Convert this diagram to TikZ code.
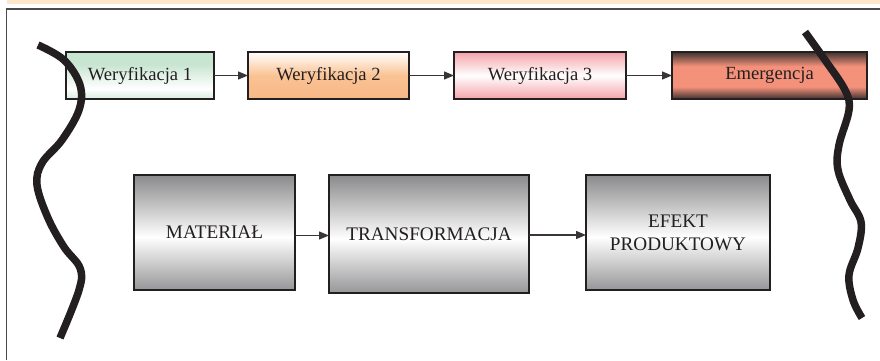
\documentclass[tikz,border=0pt]{standalone}
\usepackage{fontspec}
\setmainfont{Liberation Serif}
\usetikzlibrary{arrows.meta}
\definecolor{inkc}{HTML}{231F20}
\definecolor{framec}{HTML}{4A4A4A}
\definecolor{peachc}{HTML}{FDE6CA}
\definecolor{greenc}{HTML}{C8E5D1}
\definecolor{greenlc}{HTML}{D6EDDD}
\definecolor{orangec}{HTML}{FAC293}
\definecolor{orangebc}{HTML}{F8B887}
\definecolor{pinkc}{HTML}{F4A2A8}
\definecolor{salmonc}{HTML}{F3917A}
\definecolor{darkc}{HTML}{3D3130}
\definecolor{grayc}{HTML}{8A8A8C}
\definecolor{graybc}{HTML}{969698}
% 25bp is the bottom of a box and 75bp its top
\pgfdeclareverticalshading{shwone}{100bp}{color(0bp)=(greenlc); color(25bp)=(greenlc); color(36bp)=(white); color(62bp)=(greenc); color(75bp)=(greenc); color(100bp)=(greenc)}
\pgfdeclareverticalshading{shwtwo}{100bp}{color(0bp)=(orangebc); color(25bp)=(orangebc); color(50bp)=(orangec); color(75bp)=(white); color(100bp)=(white)}
\pgfdeclareverticalshading{shwthree}{100bp}{color(0bp)=(pinkc); color(25bp)=(pinkc); color(50bp)=(white); color(75bp)=(pinkc); color(100bp)=(pinkc)}
\pgfdeclareverticalshading{shemerg}{100bp}{color(0bp)=(darkc); color(25bp)=(darkc); color(38bp)=(salmonc); color(60bp)=(salmonc); color(75bp)=(darkc); color(100bp)=(darkc)}
\pgfdeclareverticalshading{shgray}{100bp}{color(0bp)=(graybc); color(25bp)=(graybc); color(48bp)=(white); color(75bp)=(grayc); color(100bp)=(grayc)}
\tikzset{
  boxbase/.style={draw=inkc, line width=1.3pt, inner sep=0pt, outer sep=0pt, anchor=north west, align=center, text=inkc},
  topbox/.style={boxbase, minimum height=47pt, font=\fontsize{18.6}{22}\selectfont},
  botbox/.style={boxbase, shading=shgray, font=\fontsize{19.2}{23}\selectfont},
  conn/.style={draw=inkc!90!white, line width=1.3pt, -{Triangle[length=10pt,width=8pt]}},
  wave/.style={draw=inkc, line width=7.5pt}
}
\begin{document}
\begin{tikzpicture}[x=1pt,y=-1pt]
\useasboundingbox (0,0) rectangle (880,360);
\fill[white] (0,0) rectangle (880,360);
% header band and frame
\fill[peachc] (7,0) rectangle (880,3.5);
\draw[framec, line width=1.3pt] (6.5,360) -- (6.5,9) -- (880,9);
% top row
\node[topbox, shading=shwone, minimum width=148pt] (w1) at (66,52) {Weryfikacja 1};
\node[topbox, shading=shwtwo, minimum width=161pt] (w2) at (248,52) {Weryfikacja 2};
\node[topbox, shading=shwthree, minimum width=172pt] (w3) at (454,52) {Weryfikacja 3};
\node[topbox, shading=shemerg, minimum width=195pt] (em) at (672,52) {Emergencja};
\draw[conn] (w1.east) -- (w2.west);
\draw[conn] (w2.east) -- (w3.west);
\draw[conn] (w3.east) -- (em.west);
% bottom row
\node[botbox, minimum width=161pt, minimum height=115pt] (mat) at (134,175) {MATERIAŁ};
\node[botbox, minimum width=200pt, minimum height=118pt] (tr) at (329,175) {TRANSFORMACJA};
\node[botbox, minimum width=184pt, minimum height=115pt] (ef) at (586,175) {EFEKT\\PRODUKTOWY};
\coordinate (ma) at ([yshift=-3pt]mat.east);
\coordinate (ta) at ([yshift=-1pt]tr.east);
\draw[conn] (ma) -- (ma -| tr.west);
\draw[conn] (ta) -- (ta -| ef.west);
% wavy break lines
\draw[wave] plot[smooth, tension=0.6] coordinates {(38,45) (64,60) (80,85) (79,110) (62,140) (42,163) (37,185) (48,218) (64,247) (80,268) (79,290) (60,338)};
\draw[wave] plot[smooth, tension=0.6] coordinates {(805,32) (825,60) (845,90) (849,110) (839,145) (838,170) (850,200) (861,222) (858,248) (849,275) (853,300) (862,318)};
\end{tikzpicture}
\end{document}
